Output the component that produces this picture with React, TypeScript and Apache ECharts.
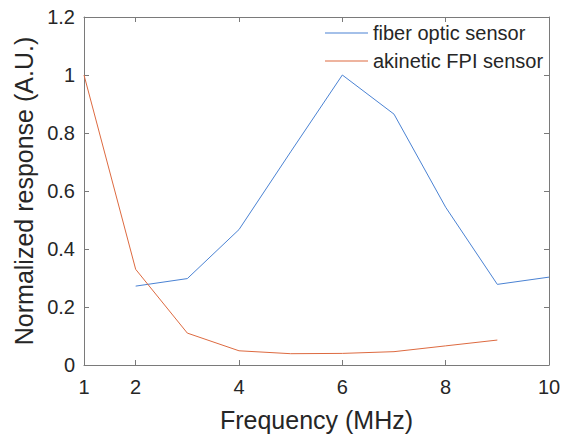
import React, { useEffect, useRef } from "react";
import * as echarts from "echarts";

const frequencies = [1, 2, 3, 4, 5, 6, 7, 8, 9, 10];
const fiberFreqs = [2, 3, 4, 5, 6, 7, 8, 9, 10];
const fiberValues = [0.272, 0.298, 0.467, 0.735, 1.0, 0.865, 0.544, 0.278, 0.303];
const akineticFreqs = [1, 2, 3, 4, 5, 6, 7, 8, 9];
const akineticValues = [1.0, 0.33, 0.11, 0.049, 0.039, 0.04, 0.046, 0.066, 0.086];
const xTickLabels = [1, 2, 4, 6, 8, 10];
const seriesNames = ["fiber optic sensor", "akinetic FPI sensor"];

const FONT = "'Liberation Sans', Arial, Helvetica, sans-serif";
const TEXT = "#262626";
const AXIS = "#7a7a7a";
const BLUE = "#4a82d3";
const ORANGE = "#dd6a40";

export default function App() {
  const ref = useRef<HTMLDivElement>(null);
  useEffect(() => {
    document.body.style.margin = "0";
    const chart = echarts.init(ref.current!, null, { renderer: "svg" });
    const tickStyle = { show: true, inside: true, length: 5, lineStyle: { color: AXIS, width: 1 } };
    const xBase = {
      type: "value" as const,
      min: frequencies[0],
      max: frequencies[frequencies.length - 1],
      interval: 1,
      splitLine: { show: false },
      axisLine: { show: true, onZero: false, lineStyle: { color: AXIS, width: 1 } },
    };
    const yBase = {
      type: "value" as const,
      min: 0,
      max: 1.2,
      interval: 0.2,
      splitLine: { show: false },
      axisLine: { show: true, onZero: false, lineStyle: { color: AXIS, width: 1 } },
      axisTick: tickStyle,
    };
    chart.setOption({
      animation: false,
      backgroundColor: "#ffffff",
      textStyle: { fontFamily: FONT },
      grid: { left: 84, right: 21, top: 17, bottom: 73, containLabel: false },
      legend: {
        data: seriesNames,
        orient: "vertical",
        left: 325,
        top: 23,
        padding: 0,
        icon: "rect",
        itemWidth: 43,
        itemHeight: 1,
        itemGap: 8,
        textStyle: { fontSize: 20, color: TEXT, fontFamily: FONT },
      },
      xAxis: [
        {
          ...xBase,
          position: "bottom",
          name: "Frequency (MHz)",
          nameLocation: "middle",
          nameGap: 42,
          nameTextStyle: { fontSize: 25, color: TEXT, fontFamily: FONT },
          axisTick: { ...tickStyle, customValues: xTickLabels },
          axisLabel: {
            show: true,
            customValues: xTickLabels,
            margin: 12,
            fontSize: 20,
            color: TEXT,
            fontFamily: FONT,
          },
        },
        {
          ...xBase,
          position: "top",
          axisTick: { ...tickStyle, customValues: xTickLabels },
          axisLabel: { show: false },
        },
      ],
      yAxis: [
        {
          ...yBase,
          position: "left",
          name: "Normalized response (A.U.)",
          nameLocation: "middle",
          nameGap: 46,
          nameTextStyle: { fontSize: 25, color: TEXT, fontFamily: FONT },
          axisLabel: { show: true, margin: 9, fontSize: 20, color: TEXT, fontFamily: FONT },
        },
        {
          ...yBase,
          position: "right",
          axisLabel: { show: false },
        },
      ],
      series: [
        {
          name: seriesNames[0],
          type: "line",
          data: fiberFreqs.map((f, i) => [f, fiberValues[i]]),
          symbol: "none",
          lineStyle: { color: BLUE, width: 1 },
          itemStyle: { color: BLUE },
        },
        {
          name: seriesNames[1],
          type: "line",
          data: akineticFreqs.map((f, i) => [f, akineticValues[i]]),
          symbol: "none",
          lineStyle: { color: ORANGE, width: 1 },
          itemStyle: { color: ORANGE },
        },
      ],
    });
    return () => chart.dispose();
  }, []);
  return <div ref={ref} style={{ width: 570, height: 438 }} />;
}
